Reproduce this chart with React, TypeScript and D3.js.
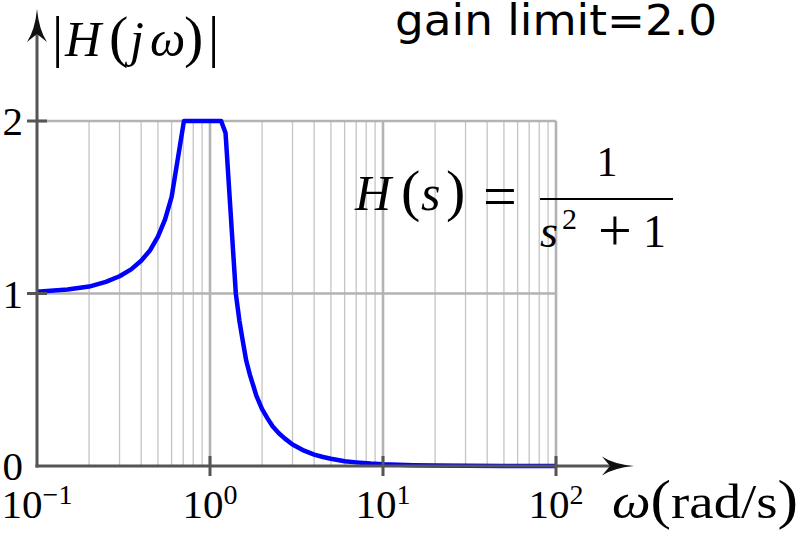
import * as d3 from "d3";

// frequency samples (rad/s) and |H(jω)|, clipped at the gain limit
const omega = [
  0.1, 0.15, 0.2, 0.25, 0.3, 0.35, 0.4, 0.45, 0.5, 0.55, 0.6, 0.707, 0.85, 1.0,
  1.16, 1.23, 1.41, 1.48, 1.55, 1.62, 1.7, 1.85, 2.0, 2.15, 2.3, 2.5, 2.7, 3.0,
  3.5, 4.0, 4.5, 5.0, 6.0, 7.0, 8.5, 10, 15, 20, 30, 50, 100,
];
const gain = [
  1.01, 1.023, 1.04, 1.067, 1.1, 1.14, 1.19, 1.25, 1.33, 1.43, 1.56, 2.0, 2.0,
  2.0, 2.0, 1.93, 1.0, 0.84, 0.72, 0.61, 0.53, 0.41, 0.33, 0.276, 0.23, 0.19,
  0.16, 0.125, 0.089, 0.066, 0.052, 0.042, 0.028, 0.021, 0.014, 0.01, 0.0045,
  0.0025, 0.0011, 0.0004, 0.0001,
];
const yTicks = [0, 1, 2];
const xDecades = [0.1, 1, 10, 100];
const xExponents = ["\u22121", "0", "1", "2"];

const W = 800;
const H = 535;
const SERIF = "'Liberation Serif', 'DejaVu Serif', serif";

export default function App() {
  const x = d3.scaleLog().domain([0.1, 100]).range([37, 556]);
  const y = d3.scaleLinear().domain([0, 2]).range([466, 121]);

  const pts = omega.map((w, i) => [w, gain[i]] as [number, number]);
  const line = d3
    .line<[number, number]>()
    .x((d) => x(d[0]))
    .y((d) => y(d[1]));

  // minor grid: 2..9 in each decade
  const minor: number[] = [];
  xDecades.slice(0, 3).forEach((dec) => {
    for (let k = 2; k <= 9; k++) minor.push(dec * k);
  });

  const x0 = x(0.1);
  const y0 = y(0);
  const yTop = y(2);
  const xEnd = x(100);

  return (
    <svg
      width={W}
      height={H}
      style={{ position: "absolute", left: 0, top: 0, background: "#fff" }}
    >
      {/* grid */}
      {minor.map((v) => (
        <line key={"m" + v} x1={x(v)} x2={x(v)} y1={yTop} y2={y0} stroke="#c4c4c4" strokeWidth={1.3} />
      ))}
      {xDecades.slice(1).map((v) => (
        <line key={"M" + v} x1={x(v)} x2={x(v)} y1={yTop} y2={y0} stroke="#b3b3b3" strokeWidth={2.6} />
      ))}
      {yTicks.slice(1).map((v) => (
        <line key={"h" + v} x1={x0} x2={xEnd} y1={y(v)} y2={y(v)} stroke="#b3b3b3" strokeWidth={2.6} />
      ))}

      {/* curve */}
      <path d={line(pts) ?? ""} fill="none" stroke="#0000ff" strokeWidth={4.5} strokeLinejoin="round" />

      {/* axes */}
      <line x1={x0} x2={x0} y1={y0 + 1.5} y2={28} stroke="#555" strokeWidth={3} />
      <line x1={x0 - 1.5} x2={615} y1={y0} y2={y0} stroke="#555" strokeWidth={3} />
      <path
        d={`M${x0},9 Q${x0 + 2},30 ${x0 + 10},42 L${x0},34 L${x0 - 10},42 Q${x0 - 2},30 ${x0},9 Z`}
        fill="#111"
      />
      <path
        d={`M634,${y0} Q613,${y0 + 2} 602,${y0 + 9.5} L610,${y0} L602,${y0 - 9.5} Q613,${y0 - 2} 634,${y0} Z`}
        fill="#111"
      />

      {/* ticks */}
      {yTicks.slice(1).map((v) => (
        <line key={"yt" + v} x1={x0 - 10} x2={x0 + 10} y1={y(v)} y2={y(v)} stroke="#555" strokeWidth={3} />
      ))}
      {xDecades.slice(1).map((v) => (
        <line key={"xt" + v} x1={x(v)} x2={x(v)} y1={y0 - 10} y2={y0 + 10} stroke="#555" strokeWidth={3} />
      ))}

      {/* tick labels */}
      {yTicks.map((v) => (
        <text key={"yl" + v} x={23} y={y(v) + 14} textAnchor="end" fontFamily={SERIF} fontSize={41}>
          {v}
        </text>
      ))}
      {xDecades.map((v, i) => (
        <text key={"xl" + v} x={x(v)} y={518} textAnchor="middle" fontFamily={SERIF} fontSize={41}>
          10
          <tspan dy={-14} fontSize={28}>
            {xExponents[i]}
          </tspan>
        </text>
      ))}

      {/* y axis label |H(jω)| */}
      <text y={56} fontFamily={SERIF} fontSize={50}>
        <tspan x={52} fontSize={56}>|</tspan>
        <tspan x={65} fontStyle="italic">H</tspan>
        <tspan x={109} fontSize={58}>(</tspan>
        <tspan x={130} fontStyle="italic">j</tspan>
        <tspan x={150} fontStyle="italic">ω</tspan>
        <tspan x={184} fontSize={58}>)</tspan>
        <tspan x={208} fontSize={56}>|</tspan>
      </text>

      {/* x axis label */}
      <text x={612} y={518} fontFamily={SERIF} fontSize={48} textLength={186} lengthAdjust="spacingAndGlyphs">
        <tspan fontStyle="italic">ω</tspan>
        <tspan fontSize={54}>(</tspan>rad/s<tspan fontSize={54}>)</tspan>
      </text>

      {/* title */}
      <text
        x={395}
        y={35}
        fontFamily="'DejaVu Sans', sans-serif"
        fontSize={42}
        textLength={322}
        lengthAdjust="spacingAndGlyphs"
      >
        gain limit=2.0
      </text>

      {/* transfer function */}
      <text y={210} fontFamily={SERIF} fontSize={50}>
        <tspan x={355} fontStyle="italic">H</tspan>
        <tspan x={401} fontSize={58}>(</tspan>
        <tspan x={421} fontStyle="italic">s</tspan>
        <tspan x={446} fontSize={58}>)</tspan>
      </text>
      <text x={500} y={216} textAnchor="middle" fontFamily={SERIF} fontSize={60}>
        =
      </text>
      <line x1={540} x2={673} y1={199} y2={199} stroke="#000" strokeWidth={1.8} />
      <text x={607} y={176} textAnchor="middle" fontFamily={SERIF} fontSize={42}>
        1
      </text>
      <text y={247} fontFamily={SERIF} fontSize={46}>
        <tspan x={540} fontStyle="italic">s</tspan>
        <tspan x={562} y={229} fontSize={30}>2</tspan>
        <tspan x={598} y={250} fontSize={60}>+</tspan>
        <tspan x={643} y={247}>1</tspan>
      </text>
    </svg>
  );
}
